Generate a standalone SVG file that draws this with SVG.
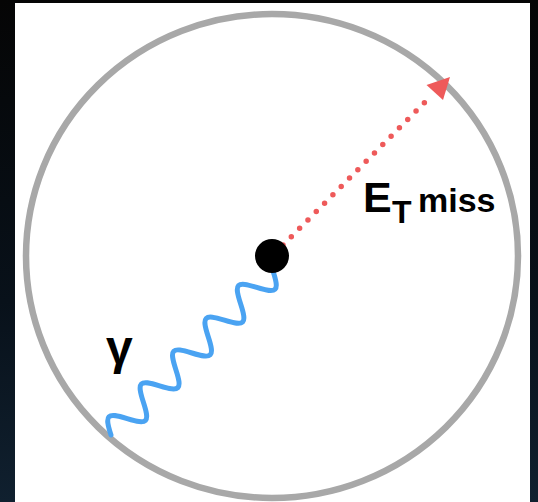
<svg xmlns="http://www.w3.org/2000/svg" width="538" height="502" viewBox="0 0 538 502">
  <defs>
    <linearGradient id="bg" x1="0" y1="0" x2="0" y2="1">
      <stop offset="0" stop-color="#050505"/>
      <stop offset="0.6" stop-color="#08111a"/>
      <stop offset="1" stop-color="#10202f"/>
    </linearGradient>
    <style>
      .lbl { font-family: "Liberation Sans", Arial, sans-serif; font-weight: bold; fill: #000; }
      .photon { fill: none; stroke: #4aa3f2; stroke-width: 5; stroke-linecap: round; stroke-linejoin: round; }
      .met { fill: none; stroke: #ee5a5a; stroke-width: 5.5; stroke-linecap: round; stroke-dasharray: 0 11.8; }
    </style>
  </defs>
  <rect x="0" y="0" width="538" height="502" fill="url(#bg)"/>
  <rect x="15" y="3" width="515" height="499" fill="#ffffff"/>

  <g id="detector">
    <ellipse cx="272" cy="256" rx="246" ry="242" fill="none" stroke="#a8a8a8" stroke-width="6.5"/>
  </g>

  <g id="connectors">
    <g id="photon">
      <path class="photon" transform="translate(111,435) rotate(-45.35)" d="M0,0 C9.77,-19 13.28,-19 23.05,0 S36.33,19 46.1,0 S59.38,-19 69.15,0 S82.43,19 92.2,0 S105.48,-19 115.25,0 S128.53,19 138.3,0 S151.58,-19 161.35,0 S174.63,19 184.4,0 S197.68,-19 207.45,0 S220.73,19 230.5,0"/>
    </g>
    <g id="met-arrow">
      <line class="met" x1="283" y1="245" x2="432" y2="95"/>
      <polygon points="450,77 426.5,85 443,100" fill="#ee5a5a"/>
    </g>
  </g>

  <g id="vertex">
    <circle cx="272" cy="256" r="17" fill="#000"/>
  </g>

  <g id="label-gamma">
    <text class="lbl" x="106" y="364" font-size="48">γ</text>
  </g>
  <g id="label-met">
    <text class="lbl" x="363" y="212" font-size="43">E</text>
    <text class="lbl" x="392" y="223" font-size="32">T</text>
    <text class="lbl" x="418" y="212" font-size="34">miss</text>
  </g>
</svg>
